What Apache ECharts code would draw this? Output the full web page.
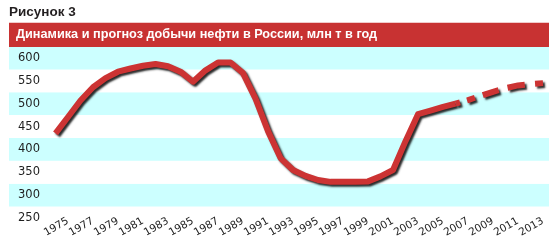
<!DOCTYPE html>
<html>
<head>
<meta charset="utf-8">
<script src="https://cdn.jsdelivr.net/npm/echarts@6.0.0/dist/echarts.min.js"></script>
<style>
  html, body { margin: 0; padding: 0; background: #ffffff; }
  #chart { width: 558px; height: 240px; }
</style>
</head>
<body>
<div id="chart"></div>
<script>
// ---- data ----
var figureLabel = 'Рисунок 3';
var chartTitle = 'Динамика и прогноз добычи нефти в России, млн т в год';
var years = [1974, 1975, 1976, 1977, 1978, 1979, 1980, 1981, 1982, 1983,
             1984, 1985, 1986, 1987, 1988, 1989, 1990, 1991, 1992, 1993,
             1994, 1995, 1996, 1997, 1998, 1999, 2000, 2001, 2002, 2003,
             2004, 2005, 2006, 2007, 2008, 2009, 2010, 2011, 2012, 2013];
var production = [435, 471, 507, 536, 556, 570, 577, 583, 587, 582,
                  570, 548, 573, 590, 590, 567, 511, 440, 381, 355,
                  342, 333, 329, 329, 329, 330, 341, 355, 418, 477,
                  485, 493, 500, 508, 517, 526, 534, 540, 543, 545];
var forecastFrom = 2006;   // actual data up to this year, forecast after it
var xTickLabels = [1975, 1977, 1979, 1981, 1983, 1985, 1987, 1989, 1991, 1993,
                   1995, 1997, 1999, 2001, 2003, 2005, 2007, 2009, 2011, 2013];
var yTickLabels = [250, 300, 350, 400, 450, 500, 550, 600];

// ---- build series data ----
var actualData = [], forecastData = [];
for (var i = 0; i < years.length; i++) {
  if (years[i] <= forecastFrom) actualData.push([years[i], production[i]]);
  if (years[i] >= forecastFrom) forecastData.push([years[i], production[i]]);
}

var RED = '#cc3333';
var lineBase = {
  color: RED,
  width: 6,
  shadowColor: 'rgba(20,20,20,0.9)',
  shadowBlur: 2,
  shadowOffsetX: 2,
  shadowOffsetY: 2
};

var chart = echarts.init(document.getElementById('chart'), null, { renderer: 'canvas' });
chart.setOption({
  animation: false,
  backgroundColor: '#ffffff',
  title: [{
    text: figureLabel,
    left: 9, top: 5, padding: 0,
    textStyle: { fontFamily: "'Liberation Sans', Arial, sans-serif",
                 fontWeight: 'bold', fontSize: 13.5, color: '#231f20' }
  }, {
    text: chartTitle,
    left: 16, top: 28, padding: 0,
    textStyle: { fontFamily: "'Liberation Sans', Arial, sans-serif",
                 fontWeight: 'bold', fontSize: 12.7, color: '#ffffff' }
  }],
  graphic: [{
    type: 'rect', z: 3,
    shape: { x: 9, y: 22.7, width: 540, height: 24.4 },
    style: { fill: '#c83232' }
  }],
  grid: { left: 9, right: 9, top: 46.57, bottom: 10.57, containLabel: false },
  xAxis: {
    type: 'value',
    min: 1970.28, max: 2013.48,
    axisLine: { show: false },
    axisTick: { show: false },
    splitLine: { show: false },
    axisLabel: {
      customValues: xTickLabels,
      rotate: 30,
      margin: -9,
      fontFamily: "'DejaVu Sans', sans-serif",
      fontSize: 10.5,
      color: '#1e1e1e',
      hideOverlap: false,
      formatter: function (v) { return String(v); }
    }
  },
  yAxis: {
    type: 'value',
    min: 225, max: 625, interval: 25,
    axisLine: { show: false },
    axisTick: { show: false },
    splitLine: { show: false },
    splitArea: { show: true, areaStyle: { color: ['#ffffff', '#ffffff', '#ccffff', '#ccffff'] } },
    axisLabel: {
      inside: true,
      margin: 9,
      fontFamily: "'DejaVu Sans', sans-serif",
      fontSize: 11.5,
      color: '#1e1e1e',
      formatter: function (v) { return yTickLabels.indexOf(v) >= 0 ? String(v) : ''; }
    }
  },
  series: [{
    name: 'Добыча',
    type: 'line',
    data: actualData,
    showSymbol: false,
    symbol: 'none',
    lineStyle: Object.assign({}, lineBase, { type: 'solid', join: 'round' })
  }, {
    name: 'Прогноз',
    type: 'line',
    data: forecastData,
    showSymbol: false,
    symbol: 'none',
    lineStyle: Object.assign({}, lineBase, { type: [4.7, 7.3, 8.3, 8.3, 16.6, 9.3, 17.5, 10.3, 30] })
  }]
});
</script>
</body>
</html>
